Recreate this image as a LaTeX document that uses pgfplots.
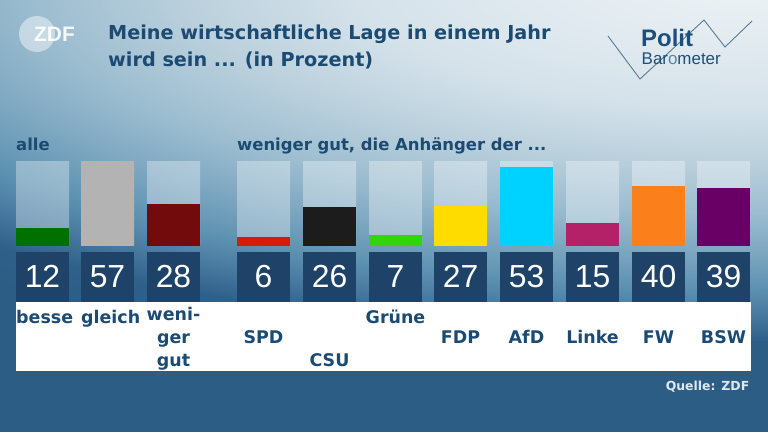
\documentclass[border=0pt]{standalone}
\usepackage{pgfplots}
\pgfplotsset{compat=1.18}
\usepackage{pgfplotstable}
\usepackage{fontspec}
\setmainfont{DejaVu Sans}
\newfontfamily\numfont{Liberation Sans}
\newfontfamily\logofont{Liberation Sans}
\definecolor{bgdark}{HTML}{2B5D85}
\definecolor{c0}{HTML}{EEF3F6}
\definecolor{c35}{HTML}{D5E2EA}
\definecolor{c5}{HTML}{BCD1DD}
\definecolor{c65}{HTML}{9BBCCF}
\definecolor{c75}{HTML}{7FA8C1}
\definecolor{c85}{HTML}{5F93B2}
\definecolor{c93}{HTML}{47799F}
\definecolor{c10}{HTML}{2F6089}
\definecolor{titlec}{HTML}{1B4A72}
\definecolor{boxc}{HTML}{1F4368}
\definecolor{srcc}{HTML}{DDE8EF}
\definecolor{cBesser}{HTML}{007000}
\definecolor{cGleich}{HTML}{B3B3B3}
\definecolor{cWeniger}{HTML}{720C0C}
\definecolor{cSPD}{HTML}{D21E05}
\definecolor{cCSU}{HTML}{1C1C1C}
\definecolor{cGruene}{HTML}{30D50A}
\definecolor{cFDP}{HTML}{FFDC00}
\definecolor{cAfD}{HTML}{00D2FF}
\definecolor{cLinke}{HTML}{B52169}
\definecolor{cFW}{HTML}{FB7F1B}
\definecolor{cBSW}{HTML}{690066}
\definecolor{zigc}{HTML}{5A7A94}
\definecolor{logoc}{HTML}{1D4F7A}
\pgfdeclareradialshading{bgshade}{\pgfpoint{0bp}{0bp}}{color(0bp)=(c0); color(8.75bp)=(c35); color(12.5bp)=(c5); color(16.25bp)=(c65); color(18.75bp)=(c75); color(21.25bp)=(c85); color(23.25bp)=(c93); color(25bp)=(c10); color(27bp)=(bgdark); color(50bp)=(bgdark)}
\pgfplotstableread{
x v full
42.5 12 57
107.5 57 57
173.5 28 57
263.5 6 57
329.5 26 57
395.5 7 57
460.5 27 57
526.5 53 57
592.5 15 57
658.5 40 57
723.5 39 57
}\data
\begin{document}
\begin{tikzpicture}[x=1bp,y=1bp]
\useasboundingbox (0,0) rectangle (768,432);
\fill[bgdark] (0,0) rectangle (768,432);
\begin{scope}
\clip (0,0) rectangle (768,432);
\shade[shading=bgshade] (-360,92) rectangle (1840,812);
\end{scope}
% white label strip
\fill[white] (16,61.3) rectangle (750.7,130.3);
\begin{axis}[at={(0,0)}, anchor=south west, scale only axis,
  width=768bp, height=432bp, xmin=0, xmax=768, ymin=-125.37, ymax=165.35,
  hide axis, clip=false]
\addplot[ybar, bar width=53, bar shift=0pt, fill=white, fill opacity=0.33, draw=none] table[x=x,y=full] {\data};
\addplot[ybar, bar width=53, bar shift=0pt, fill=cBesser, draw=none] coordinates {(42.5,12)};
\addplot[ybar, bar width=53, bar shift=0pt, fill=cGleich, draw=none] coordinates {(107.5,57)};
\addplot[ybar, bar width=53, bar shift=0pt, fill=cWeniger, draw=none] coordinates {(173.5,28)};
\addplot[ybar, bar width=53, bar shift=0pt, fill=cSPD, draw=none] coordinates {(263.5,6)};
\addplot[ybar, bar width=53, bar shift=0pt, fill=cCSU, draw=none] coordinates {(329.5,26)};
\addplot[ybar, bar width=53, bar shift=0pt, fill=cGruene, draw=none] coordinates {(395.5,7)};
\addplot[ybar, bar width=53, bar shift=0pt, fill=cFDP, draw=none] coordinates {(460.5,27)};
\addplot[ybar, bar width=53, bar shift=0pt, fill=cAfD, draw=none] coordinates {(526.5,53)};
\addplot[ybar, bar width=53, bar shift=0pt, fill=cLinke, draw=none] coordinates {(592.5,15)};
\addplot[ybar, bar width=53, bar shift=0pt, fill=cFW, draw=none] coordinates {(658.5,40)};
\addplot[ybar, bar width=53, bar shift=0pt, fill=cBSW, draw=none] coordinates {(723.5,39)};
% number boxes
\addplot[draw=none, mark=none, point meta=explicit,
  nodes near coords={\pgfmathprintnumber[assume math mode=true]{\pgfplotspointmeta}},
  nodes near coords align={anchor=center},
  every node near coord/.append style={fill=boxc, text=white, minimum width=53bp,
    minimum height=49.7bp, inner sep=0pt, font=\numfont\fontsize{32}{32}\selectfont}]
  table[x=x, y expr=-20.96, meta=v] {\data};
\end{axis}
% category labels
\begin{scope}[every node/.style={text=titlec, font=\bfseries\fontsize{17.5}{17.5}\selectfont, inner sep=0pt}]
\node[anchor=base west] at (16,109) {besse};
\node[anchor=base west] at (81,109) {gleich};
\node[anchor=base] at (173.5,112) {weni-};
\node[anchor=base] at (173.5,89) {ger};
\node[anchor=base] at (173.5,66) {gut};
\node[anchor=base] at (263.5,89) {SPD};
\node[anchor=base] at (329.5,66) {CSU};
\node[anchor=base] at (395.5,109) {Grüne};
\node[anchor=base] at (460.5,89) {FDP};
\node[anchor=base] at (526.5,89) {AfD};
\node[anchor=base] at (592.5,89) {Linke};
\node[anchor=base] at (658.5,89) {FW};
\node[anchor=base] at (723.5,89) {BSW};
\end{scope}
% group labels
\node[anchor=base west, inner sep=0pt, text=titlec, font=\bfseries\fontsize{16.5}{16.5}\selectfont] at (16,282) {alle};
\node[anchor=base west, inner sep=0pt, text=titlec, font=\bfseries\fontsize{16.5}{16.5}\selectfont] at (237,282) {weniger gut, die Anhänger der ...};
% title
\node[anchor=base west, inner sep=0pt, text=titlec, font=\bfseries\fontsize{19.3}{19.3}\selectfont] at (108,392.5) {Meine wirtschaftliche Lage in einem Jahr};
\node[anchor=base west, inner sep=0pt, text=titlec, font=\bfseries\fontsize{19.3}{19.3}\selectfont] at (108,366) {wird sein ... (in Prozent)};
% source
\node[anchor=base east, inner sep=0pt, text=srcc, font=\bfseries\fontsize{12.5}{12.5}\selectfont] at (749.5,42) {Quelle: ZDF};
% ZDF logo
\fill[white, opacity=0.45] (37,398) circle (18);
\node[anchor=base west, inner sep=0pt, text=white, opacity=0.9, font=\logofont\bfseries\fontsize{21}{21}\selectfont] at (34,390.3) {ZDF};
% Politbarometer logo
\draw[zigc, line width=0.9bp] (608,396) -- (640,353) -- (704,412) -- (725,385) -- (752,411);
\node[anchor=base west, inner sep=0pt, text=logoc, font=\logofont\bfseries\fontsize{24}{24}\selectfont] at (641,385.3) {Polit};
\node[anchor=base west, inner sep=0pt, text=logoc, font=\logofont\fontsize{17}{17}\selectfont] at (641.5,368) {Bar\textcolor{logoc!70!white}{o}meter};
\end{tikzpicture}
\end{document}
